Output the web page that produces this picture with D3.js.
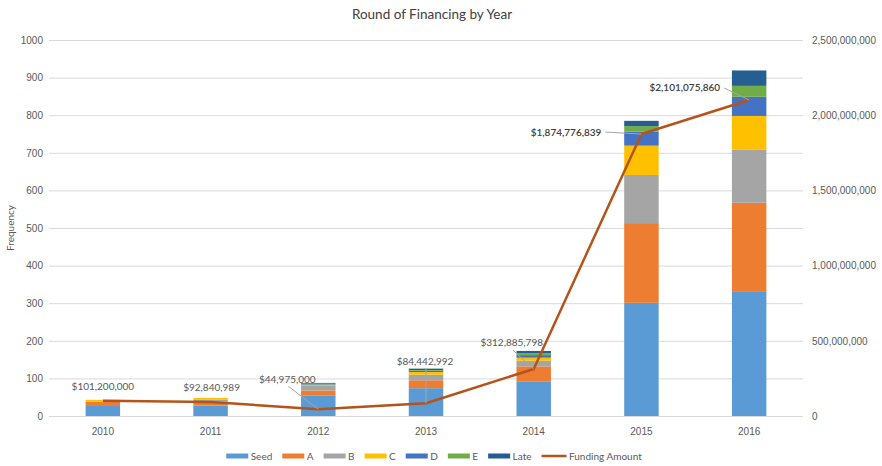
<!DOCTYPE html>
<html>
<head>
<meta charset="utf-8">
<script src="https://cdn.jsdelivr.net/npm/d3@7/dist/d3.min.js"></script>
<style>
  html, body { margin: 0; padding: 0; background: #ffffff; }
  svg { display: block; font-family: Lato, "Open Sans", "Liberation Sans", sans-serif; }
</style>
</head>
<body>
<svg id="chart" width="882" height="466"></svg>
<script>
// Rounds of financing per year (counts) and total funding amount (USD)
const years   = ["2010", "2011", "2012", "2013", "2014", "2015", "2016"];
const seed    = [29, 28, 55, 74, 91, 301, 332];
const roundA  = [9, 10, 13, 21, 41, 212, 235];
const roundB  = [1, 6, 12, 15, 15, 128, 142];
const roundC  = [4, 4, 2, 7, 8, 78, 89];
const roundD  = [0, 0, 2, 3, 7, 37, 51];
const roundE  = [0, 0, 2, 2, 5, 15, 29];
const late    = [0, 0, 2, 4, 6, 14, 41];
const funding = [101200000, 92840989, 44975000, 84442992, 312885798, 1874776839, 2101075860];

const seriesNames = ["Seed", "A", "B", "C", "D", "E", "Late"];
const seriesValues = [seed, roundA, roundB, roundC, roundD, roundE, late];
const leftTicks = [0, 100, 200, 300, 400, 500, 600, 700, 800, 900, 1000];
const rightTicks = [0, 500000000, 1000000000, 1500000000, 2000000000, 2500000000];

// styling
const colors = ["#5B9BD5", "#ED7D31", "#A5A5A5", "#FFC000", "#4472C4", "#70AD47", "#255E91"];
const lineColor = "#B4541A";
const textColor = "#595959";

// where each funding label sits relative to its point [dx, dy], and whether it gets a leader line
const labelLayout = [
  { dx: 0,   dy: -14, anchor: "middle", leader: false, dark: false },
  { dx: 1,   dy: -15, anchor: "middle", leader: false, dark: false },
  { dx: -31, dy: -30, anchor: "middle", leader: true,  dark: false },
  { dx: -1,  dy: -42, anchor: "middle", leader: true,  dark: false },
  { dx: -22, dy: -26, anchor: "middle", leader: true,  dark: false },
  { dx: -40, dy: -2,  anchor: "end",    leader: true,  dark: true },
  { dx: -29, dy: -12, anchor: "end",    leader: true,  dark: true }
];

const svg = d3.select("#chart");
const plot = { left: 49, right: 803, top: 40, bottom: 416 };

const table = years.map((y, i) => {
  const row = { year: y, funding: funding[i] };
  seriesNames.forEach((k, j) => { row[k] = seriesValues[j][i]; });
  return row;
});

const x = d3.scaleBand().domain(years).range([plot.left, plot.right])
  .paddingInner(0.68).paddingOuter(0.34);
const y = d3.scaleLinear().domain([0, 1000]).range([plot.bottom, plot.top]);
const y2 = d3.scaleLinear().domain([0, 2500000000]).range([plot.bottom, plot.top]);

// title
svg.append("text")
  .attr("x", 432).attr("y", 19)
  .attr("text-anchor", "middle")
  .attr("fill", "#404040")
  .style("font-size", "13.5px")
  .text("Round of Financing by Year");

// gridlines
const grid = svg.append("g").attr("transform", `translate(${plot.left},0)`)
  .call(d3.axisLeft(y).tickValues(leftTicks).tickSize(-(plot.right - plot.left)).tickFormat(""));
grid.select(".domain").remove();
grid.selectAll("line").attr("stroke", "#D9D9D9").attr("stroke-width", 1);

// left axis
const gl = svg.append("g").attr("transform", `translate(${plot.left},0)`)
  .call(d3.axisLeft(y).tickValues(leftTicks).tickSize(0).tickPadding(6).tickFormat(d3.format("d")));
gl.select(".domain").remove();
gl.selectAll("text").attr("fill", textColor).style("font-size", "10px");

// right axis
const gr = svg.append("g").attr("transform", `translate(${plot.right},0)`)
  .call(d3.axisRight(y2).tickValues(rightTicks).tickSize(0).tickPadding(9).tickFormat(d3.format(",")));
gr.select(".domain").remove();
gr.selectAll("text").attr("fill", textColor).style("font-size", "10px");

// bottom axis (category labels)
const gb = svg.append("g").attr("transform", `translate(0,${plot.bottom})`)
  .call(d3.axisBottom(x).tickSize(0).tickPadding(12));
gb.select(".domain").remove();
gb.selectAll("text").attr("fill", textColor).style("font-size", "10px");

// y axis title
svg.append("text")
  .attr("transform", `translate(14,${(plot.top + plot.bottom) / 2}) rotate(-90)`)
  .attr("text-anchor", "middle")
  .attr("fill", textColor)
  .style("font-size", "10px")
  .text("Frequency");

// stacked bars
const stacked = d3.stack().keys(seriesNames)(table);
svg.append("g").selectAll("g")
  .data(stacked)
  .join("g")
  .attr("fill", (d, i) => colors[i])
  .selectAll("rect")
  .data(d => d)
  .join("rect")
  .attr("x", d => x(d.data.year))
  .attr("width", x.bandwidth())
  .attr("y", d => y(d[1]))
  .attr("height", d => Math.max(0, y(d[0]) - y(d[1])));

// funding amount line
const px = d => x(d.year) + x.bandwidth() / 2;
svg.append("path")
  .datum(table)
  .attr("fill", "none")
  .attr("stroke", lineColor)
  .attr("stroke-width", 2.5)
  .attr("stroke-linejoin", "round")
  .attr("d", d3.line().x(px).y(d => y2(d.funding)));

// funding labels with leader lines
const money = v => "$" + d3.format(",")(v);
const labels = svg.append("g");
table.forEach((d, i) => {
  const L = labelLayout[i];
  const cx = px(d), cy = y2(d.funding);
  const tx = cx + L.dx, ty = cy + L.dy;
  labels.append("text")
    .attr("x", tx).attr("y", ty)
    .attr("dy", "0.35em")
    .attr("text-anchor", L.anchor)
    .attr("fill", L.dark ? "#404040" : textColor)
    .style("font-size", "10px")
    .style("font-weight", L.dark ? "600" : "400")
    .text(money(d.funding));
  if (L.leader) {
    const lx = L.anchor === "end" ? tx + 4 : tx + 1;
    const ly = L.anchor === "end" ? ty : ty + 7;
    labels.insert("line", "text")
      .attr("x1", lx).attr("y1", ly)
      .attr("x2", cx).attr("y2", cy)
      .attr("stroke", "#A6A6A6").attr("stroke-width", 1);
  }
});

// legend
const legendItems = seriesNames.map((n, i) => ({ name: n, color: colors[i], type: "rect" }))
  .concat([{ name: "Funding Amount", color: lineColor, type: "line" }]);
const legend = svg.append("g").attr("transform", "translate(0,456)");
let lxPos = 0;
const entries = [];
const itemGap = 10;
legendItems.forEach(item => {
  const g = legend.append("g");
  const sw = item.type === "rect" ? 22 : 25;
  if (item.type === "rect") {
    g.append("rect").attr("x", 0).attr("y", -2.5).attr("width", sw).attr("height", 5).attr("fill", item.color);
  } else {
    g.append("line").attr("x1", 0).attr("x2", sw).attr("y1", 0).attr("y2", 0)
      .attr("stroke", item.color).attr("stroke-width", 2.5);
  }
  const t = g.append("text").attr("x", sw + 2.5).attr("dy", "0.35em")
    .attr("fill", textColor).style("font-size", "10px").text(item.name);
  const w = sw + 2.5 + t.node().getComputedTextLength();
  entries.push({ g, x: lxPos });
  lxPos += w + itemGap;
});
const legendWidth = lxPos - itemGap;
const legendStart = 434 - legendWidth / 2;
entries.forEach(e => e.g.attr("transform", `translate(${legendStart + e.x},0)`));
</script>
</body>
</html>
